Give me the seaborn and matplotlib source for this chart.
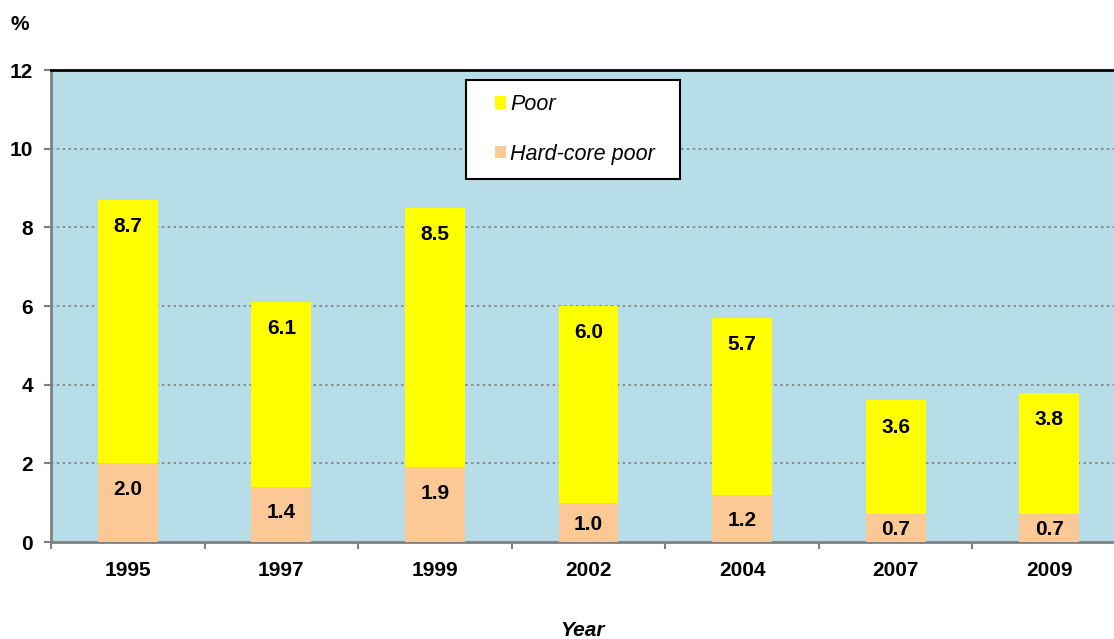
import matplotlib
matplotlib.use("Agg")
import matplotlib.pyplot as plt
import seaborn as sns
import pandas as pd
from matplotlib.patches import Patch
from matplotlib.legend_handler import HandlerPatch

years = ["1995", "1997", "1999", "2002", "2004", "2007", "2009"]
poor = [8.7, 6.1, 8.5, 6.0, 5.7, 3.6, 3.8]
hardcore = [2.0, 1.4, 1.9, 1.0, 1.2, 0.7, 0.7]
yticks = [0, 2, 4, 6, 8, 10, 12]

df = pd.DataFrame({"Year": years, "Poor": poor, "Hard": hardcore})

sns.set_theme(style="white")
plt.rcParams["font.family"] = ["Liberation Sans", "DejaVu Sans"]
plt.rcParams["text.color"] = "black"
plt.rcParams["xtick.color"] = "black"
plt.rcParams["ytick.color"] = "black"

W, H = 1114, 639
FS = 15
fig = plt.figure(figsize=(W / 100, H / 100), dpi=100)
left, right, top, bottom = 51, 1126, 70, 542
ax = fig.add_axes([left / W, 1 - bottom / H, (right - left) / W, (bottom - top) / H])
ax.set_facecolor("#B7DDE8")

YEL = "#FFFF00"
PINK = "#FCC896"
sns.barplot(data=df, x="Year", y="Poor", color=YEL, width=0.39, saturation=1,
            ax=ax, zorder=3, linewidth=0)
sns.barplot(data=df, x="Year", y="Hard", color=PINK, width=0.39, saturation=1,
            ax=ax, zorder=4, linewidth=0)

ax.set_ylim(0, 12)
ax.set_xlim(-0.5, len(years) - 0.5)
ax.set_yticks(yticks)
ax.set_yticklabels([str(v) for v in yticks], fontsize=FS, fontweight="bold", color="black")
ax.set_xticks(range(len(years)))
ax.set_xticklabels(years, fontsize=FS, fontweight="bold", color="black")
ax.tick_params(axis="x", which="major", length=0, pad=14, bottom=True)
ax.set_xticks([k - 0.5 for k in range(len(years) + 1)], minor=True)
ax.tick_params(axis="x", which="minor", length=5, color="#808080", width=1.5,
               direction="out", bottom=True)
ax.tick_params(axis="y", length=5, color="#808080", width=1.5, direction="out",
               pad=8, left=True, labelcolor="black")
ax.set_xlabel("")
ax.set_ylabel("")

for v in yticks[1:-1]:
    ax.axhline(v, color="#808080", linestyle=(0, (1.5, 2)), linewidth=1.2, zorder=1)

for s in ["left", "bottom"]:
    ax.spines[s].set_color("#808080")
    ax.spines[s].set_linewidth(2)
ax.spines["top"].set_color("black")
ax.spines["top"].set_linewidth(2)
ax.spines["right"].set_visible(False)

for i, (p, h) in enumerate(zip(poor, hardcore)):
    ax.text(i, p - 0.68, f"{p:.1f}", ha="center", va="center", fontsize=FS,
            fontweight="bold", zorder=6, color="black")
    hy = h - 0.66 if h >= 1.3 else h * 0.45
    ax.text(i, hy, f"{h:.1f}", ha="center", va="center", fontsize=FS,
            fontweight="bold", zorder=6, color="black")

handles = [Patch(facecolor=YEL, edgecolor="none"), Patch(facecolor=PINK, edgecolor="none")]
x0 = (466 - left) / (right - left)
w = (680 - 466) / (right - left)
ytop = (bottom - 80) / (bottom - top)
ybot = (bottom - 177) / (bottom - top)
hp = HandlerPatch(xpad=0.7)
leg = ax.legend(handles, ["Poor", "Hard-core poor"], loc="upper left",
                bbox_to_anchor=(x0, ybot, w, ytop - ybot), mode="expand",
                prop={"style": "italic", "size": 15.5}, frameon=True, fancybox=False,
                edgecolor="black", facecolor="white", framealpha=1,
                handlelength=1.21, handleheight=0.51, labelspacing=1.33,
                borderpad=0.65, handletextpad=0.2, borderaxespad=0,
                handler_map={Patch: hp})
leg.get_frame().set_linewidth(1.5)
leg.set_zorder(10)
for t in leg.get_texts():
    t.set_color("black")

fig.text(20 / W, 1 - 25 / H, "%", fontsize=FS, fontweight="bold", ha="center", va="center")
fig.text(582 / W, 1 - 630 / H, "Year", fontsize=FS, fontweight="bold", style="italic",
         ha="center", va="center")

fig.savefig("out.png", dpi=100, facecolor="white")
